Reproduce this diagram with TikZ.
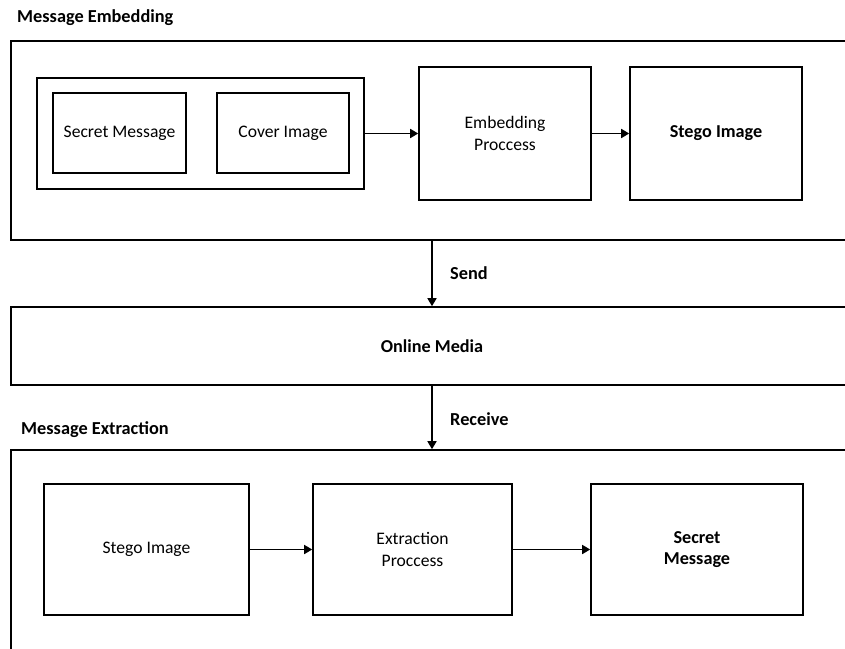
\documentclass[tikz,border=0pt]{standalone}
\usepackage{fontspec}
\setmainfont{Carlito}
\usetikzlibrary{arrows.meta,positioning}

\begin{document}
\begin{tikzpicture}[x=1pt,y=-1pt,
  box/.style={draw,line width=1.6pt,align=center,inner sep=0pt,
    font=\fontsize{17.6}{21.5}\selectfont},
  bbox/.style={box,font=\bfseries\fontsize{18.2}{21.5}\selectfont},
  lbl/.style={anchor=west,inner sep=0pt,font=\bfseries\fontsize{18.3}{20}\selectfont},
  arr/.style={line width=1.6pt,-{Triangle[length=8pt,width=9pt]}}]
	\useasboundingbox (0,0) rectangle (845,648);
	\clip (0,0) rectangle (845,648);
	% titles
	\node[lbl] (embtitle) at (17,18) {Message Embedding};
	\node[lbl] (exttitle) at (21,430) {Message Extraction};
	% embedding frame
	\node[box,minimum width=842pt,minimum height=199pt] (embframe) at (432,140.5) {};
	\node[box,minimum width=327pt,minimum height=111pt] (input) at (200.5,133.5) {};
	\node[box,minimum width=133pt,minimum height=80pt] (secret) at (119.5,133) {Secret Message};
	\node[box,minimum width=132pt,minimum height=80pt] (cover) at (283,133) {Cover Image};
	\node[box,minimum width=172pt,minimum height=133pt] (embproc) at (505,133.5) {Embedding\\Proccess};
	\node[bbox,minimum width=172pt,minimum height=133pt] (stego) at (716,133.5) {Stego Image};
	% online media
	\node[bbox,minimum width=842pt,minimum height=78pt] (media) at (432,346) {Online Media};
	% extraction frame
	\node[box,minimum width=842pt,minimum height=220pt] (extframe) at (432,560) {};
	\node[box,minimum width=205pt,minimum height=131pt] (stegoin) at (146.5,549.5) {Stego Image};
	\node[box,minimum width=199pt,minimum height=131pt] (extproc) at (412.5,549.5) {Extraction\\Proccess};
	\node[bbox,minimum width=212pt,minimum height=131pt] (secretout) at (697,549.5) {Secret\\Message};
	% arrows
	\draw[arr] (input) -- (embproc);
	\draw[arr] (embproc) -- (stego);
	\draw[arr] (embframe) -- (media);
	\draw[arr] (media) -- (extframe);
	\draw[arr] (stegoin) -- (extproc);
	\draw[arr] (extproc) -- (secretout);
	% arrow labels
	\node[lbl] (send) at (450,273) {Send};
	\node[lbl] (receive) at (450,419) {Receive};
\end{tikzpicture}
\end{document}
